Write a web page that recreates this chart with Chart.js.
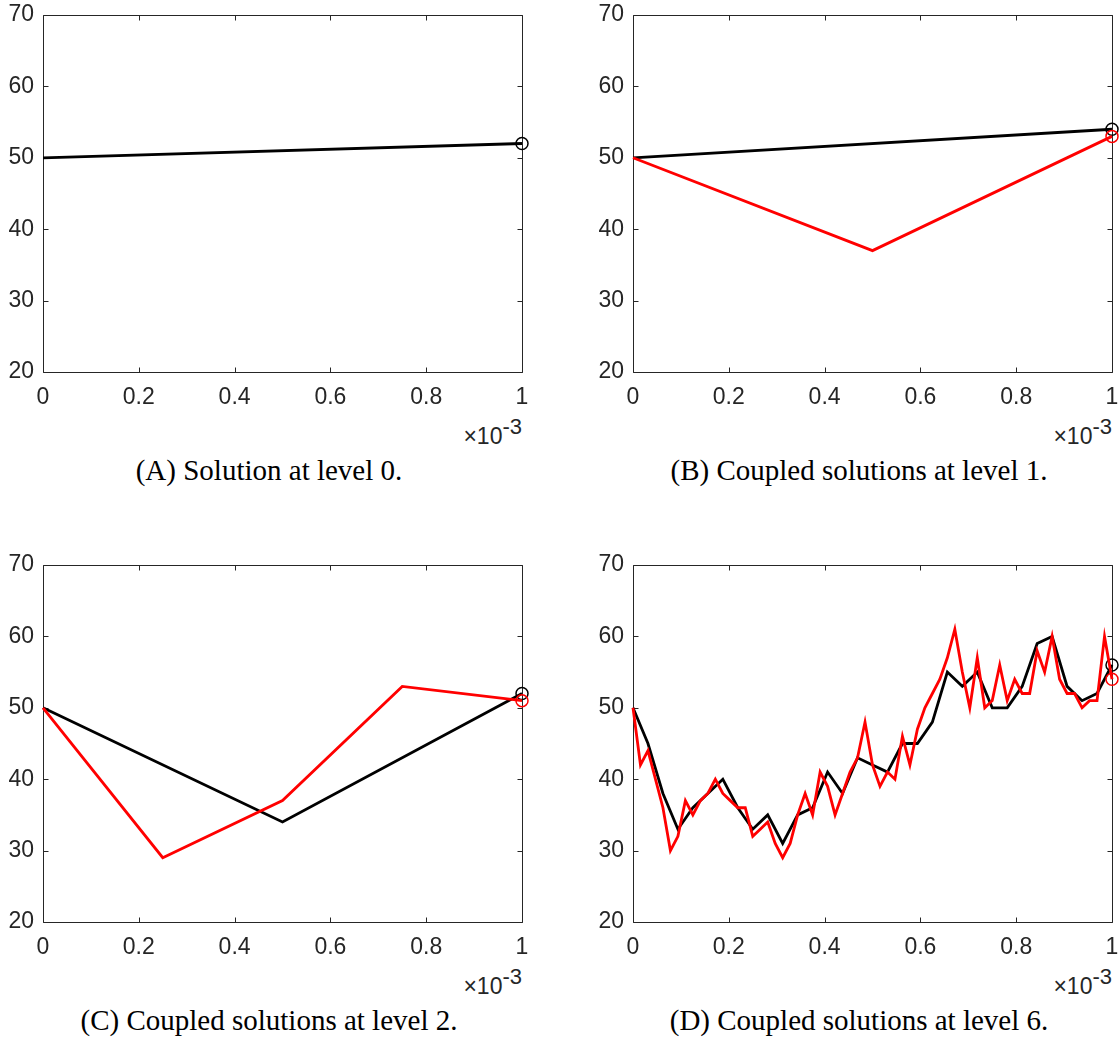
<!DOCTYPE html>
<html>
<head>
<meta charset="utf-8">
<script src="https://cdn.jsdelivr.net/npm/chart.js@4"></script>
<style>
  body { margin: 0; background: #fff; overflow: hidden; }
  #page { position: relative; width: 1120px; height: 1040px; }
  .panel { position: absolute; width: 540px; height: 500px; }
  .panel canvas { position: absolute; left: 0; top: 0; }
  .xexp { position: absolute; right: 18px; top: 416px; font: 23px "Liberation Sans", Arial, sans-serif; line-height: 23px; color: #262626; }
  .xexp sup { font-size: 22px; position: relative; top: -1px; }
  .cap { position: absolute; left: 0; width: 538px; top: 456px; text-align: center; font: 29px "Liberation Serif", "Times New Roman", serif; line-height: 29px; color: #000; }
</style>
</head>
<body>
<div id="page">
  <div class="panel" style="left:0;top:0">
    <canvas id="pA" width="530" height="410"></canvas>
    <div class="xexp">&times;10<sup>-3</sup></div>
    <div class="cap">(A) Solution at level 0.</div>
  </div>
  <div class="panel" style="left:590px;top:0">
    <canvas id="pB" width="530" height="410"></canvas>
    <div class="xexp">&times;10<sup>-3</sup></div>
    <div class="cap">(B) Coupled solutions at level 1.</div>
  </div>
  <div class="panel" style="left:0;top:550px">
    <canvas id="pC" width="530" height="410"></canvas>
    <div class="xexp">&times;10<sup>-3</sup></div>
    <div class="cap">(C) Coupled solutions at level 2.</div>
  </div>
  <div class="panel" style="left:590px;top:550px">
    <canvas id="pD" width="530" height="410"></canvas>
    <div class="xexp">&times;10<sup>-3</sup></div>
    <div class="cap">(D) Coupled solutions at level 6.</div>
  </div>
</div>
<script>
// tick labels (x in units of 1e-3)
const xTicks = [0, 0.2, 0.4, 0.6, 0.8, 1];
const yTicks = [20, 30, 40, 50, 60, 70];

// values on a uniform grid from 0 to 1e-3
const level0 = [50, 52];
const coarse1 = [50, 54];
const fine1 = [50, 37, 53];
const coarse2 = [50, 34, 52];
const fine2 = [50, 29, 37, 53, 51];
const coarse6 = [50, 45, 38, 33, 36, 38, 40, 36, 33, 35, 31, 35, 36, 41, 38, 43, 42,
  41, 45, 45, 48, 55, 53, 55, 50, 50, 53, 59, 60, 53, 51, 52, 56];
const fine6 = [50, 42, 44, 40, 36, 30, 32, 37, 35, 37, 38, 40, 38, 37, 36, 36, 32,
  33, 34, 31, 29, 31, 35, 38, 35, 41, 39, 35, 38, 41, 43, 48, 42,
  39, 41, 40, 46, 42, 47, 50, 52, 54, 57, 61, 55, 50, 57, 50, 51,
  56, 51, 54, 52, 52, 58, 55, 60, 54, 52, 52, 50, 51, 51, 60, 54];

const axisColor = '#262626';
const tickFont = { family: '"Liberation Sans", Arial, sans-serif', size: 23 };

// box round the axes with inward ticks, like matlab
const framePlugin = {
  id: 'frame',
  beforeDatasetsDraw(chart) {
    const ctx = chart.ctx;
    const a = chart.chartArea;
    const x = chart.scales.x, y = chart.scales.y;
    const L = Math.round(a.left) + 0.5, R = Math.round(a.right) + 0.5;
    const T = Math.round(a.top) + 0.5, B = Math.round(a.bottom) + 0.5;
    ctx.save();
    ctx.strokeStyle = axisColor;
    ctx.lineWidth = 1;
    ctx.beginPath();
    ctx.rect(L, T, R - L, B - T);
    xTicks.forEach(v => {
      const px = Math.round(x.getPixelForValue(v)) + 0.5;
      ctx.moveTo(px, B); ctx.lineTo(px, B - 5);
      ctx.moveTo(px, T); ctx.lineTo(px, T + 5);
    });
    yTicks.forEach(v => {
      const py = Math.round(y.getPixelForValue(v)) + 0.5;
      ctx.moveTo(L, py); ctx.lineTo(L + 5, py);
      ctx.moveTo(R, py); ctx.lineTo(R - 5, py);
    });
    ctx.stroke();
    ctx.restore();
  }
};

function series(ys, color) {
  const n = ys.length - 1;
  return {
    data: ys.map((v, i) => ({ x: i / n, y: v })),
    borderColor: color,
    borderWidth: 2.8,
    pointRadius: ys.map((v, i) => i === n ? 6 : 0),
    pointBorderWidth: 1.5,
    pointBorderColor: color,
    pointBackgroundColor: 'rgba(0,0,0,0)',
    tension: 0,
    fill: false,
    clip: false
  };
}

function makeChart(id, datasets) {
  return new Chart(document.getElementById(id), {
    type: 'line',
    data: { datasets: datasets },
    options: {
      responsive: false,
      animation: false,
      events: [],
      layout: { padding: { top: 15, right: 8, bottom: 0, left: 0 } },
      plugins: { legend: { display: false }, tooltip: { enabled: false } },
      scales: {
        x: {
          type: 'linear', min: 0, max: 1,
          afterBuildTicks: s => { s.ticks = xTicks.map(v => ({ value: v })); },
          afterFit: s => { s.height = 38; s.paddingLeft = 0; s.paddingRight = 0; },
          grid: { display: false, drawTicks: false },
          border: { display: false },
          ticks: { padding: 12, color: axisColor, font: tickFont, maxRotation: 0, autoSkip: false,
                   callback: v => String(v) }
        },
        y: {
          type: 'linear', min: 20, max: 70,
          afterBuildTicks: s => { s.ticks = yTicks.map(v => ({ value: v })); },
          afterFit: s => { s.width = 43; s.paddingTop = 0; s.paddingBottom = 0; },
          grid: { display: false, drawTicks: false },
          border: { display: false },
          ticks: { padding: 9, color: axisColor, font: tickFont, callback: v => String(v) }
        }
      }
    },
    plugins: [framePlugin]
  });
}

// red first so it is drawn on top
makeChart('pA', [series(level0, '#000000')]);
makeChart('pB', [series(fine1, '#ff0000'), series(coarse1, '#000000')]);
makeChart('pC', [series(fine2, '#ff0000'), series(coarse2, '#000000')]);
makeChart('pD', [series(fine6, '#ff0000'), series(coarse6, '#000000')]);
</script>
</body>
</html>
